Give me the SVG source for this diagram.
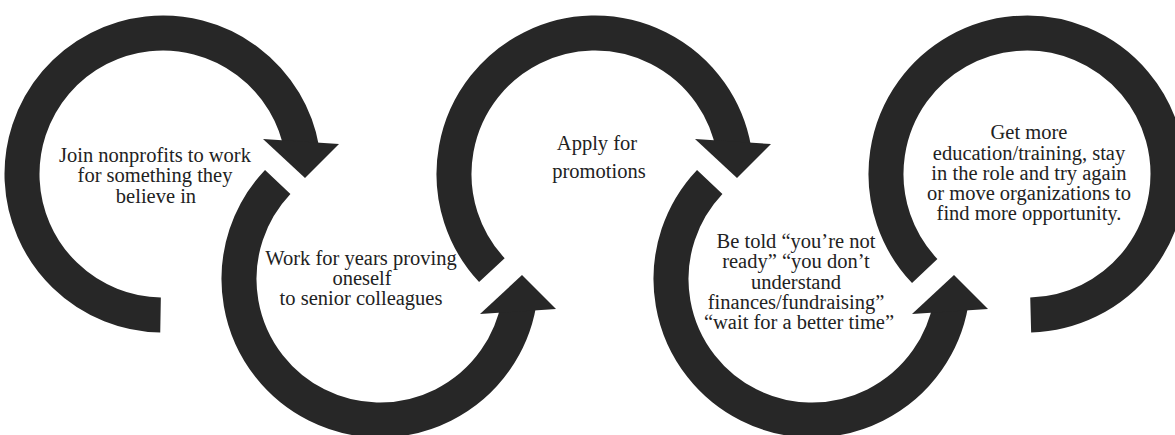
<svg xmlns="http://www.w3.org/2000/svg" xmlns:xlink="http://www.w3.org/1999/xlink" width="1175" height="435" viewBox="0 0 1175 435">
<style>
.ring{fill:none;stroke:#272727;stroke-width:35;stroke-linecap:butt}
.head{fill:#272727}
.lbl{font-family:"Liberation Serif","Times New Roman",serif;font-size:20.5px;fill:#222;text-anchor:middle}
</style>
<defs>
<polygon id="headDown" class="head" points="100,-35 176,-30 142,4"/>
<polygon id="headUp" class="head" points="100,35 176,30 142,-4"/>
</defs>
<rect width="1175" height="435" fill="#fff"/>
<g id="connectors">
<path id="ring1" class="ring" d="M160.54,314.98 A141,141 0 1 1 301.86,149.52"/>
<use href="#headDown" xlink:href="#headDown" x="163" y="174"/>
<path id="ring2" class="ring" d="M277.72,181.94 A141,141 0 1 0 518.86,303.48"/>
<use href="#headUp" xlink:href="#headUp" x="380" y="279"/>
<path id="ring3" class="ring" d="M491.88,270.16 A141,141 0 1 1 733.86,149.52"/>
<use href="#headDown" xlink:href="#headDown" x="595" y="174"/>
<path id="ring4" class="ring" d="M709.72,181.94 A141,141 0 1 0 950.86,303.48"/>
<use href="#headUp" xlink:href="#headUp" x="812" y="279"/>
<path id="ring5" class="ring" d="M924.72,271.06 A141,141 0 1 1 1030.69,314.95"/>
</g>
<g id="node1">
<text class="lbl" x="155" y="161.5">Join nonprofits to work</text>
<text class="lbl" x="155" y="181.5">for something they</text>
<text class="lbl" x="156" y="202.5">believe in</text>
</g>
<g id="node2">
<text class="lbl" x="361" y="265">Work for years proving</text>
<text class="lbl" x="362" y="285">oneself</text>
<text class="lbl" x="361" y="305">to senior colleagues</text>
</g>
<g id="node3">
<text class="lbl" x="597" y="150">Apply for</text>
<text class="lbl" x="599" y="178">promotions</text>
</g>
<g id="node4">
<text class="lbl" x="796" y="248">Be told “you’re not</text>
<text class="lbl" x="796" y="268">ready” “you don’t</text>
<text class="lbl" x="796" y="289">understand</text>
<text class="lbl" x="796" y="309">finances/fundraising”</text>
<text class="lbl" x="799" y="329">“wait for a better time”</text>
</g>
<g id="node5">
<text class="lbl" x="1029" y="139">Get more</text>
<text class="lbl" x="1029" y="160">education/training, stay</text>
<text class="lbl" x="1029" y="180">in the role and try again</text>
<text class="lbl" x="1029" y="200">or move organizations to</text>
<text class="lbl" x="1029" y="220">find more opportunity.</text>
</g>
</svg>
